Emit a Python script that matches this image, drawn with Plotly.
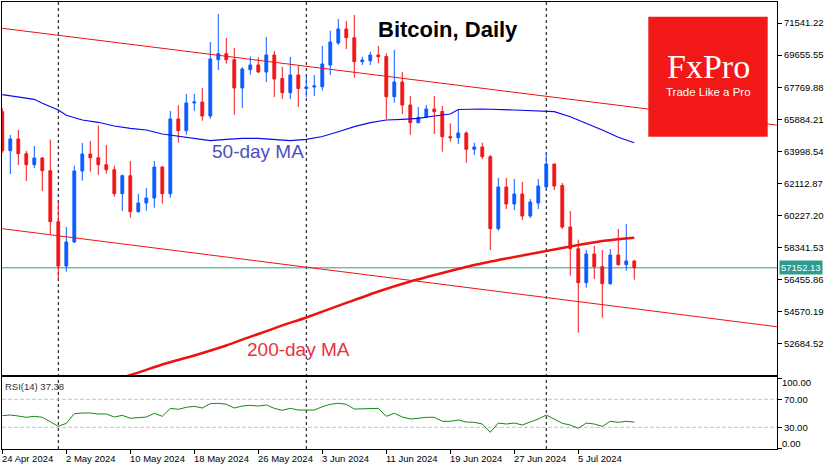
import plotly.graph_objects as go
import pandas as pd

# ---------------- data ----------------
dates = pd.date_range("2024-04-24", periods=80, freq="D")

opens = [66332, 64039, 64727, 63862, 63216, 63610, 62863, 59864, 57259, 58670,
         62845, 63845, 63627, 63216, 62922, 61510, 62569, 60452, 60964, 61258,
         63080, 61510, 65903, 65215, 66844, 66902, 66079, 69390, 69742, 69390,
         67726, 68802, 69078, 68666, 69666, 68284, 67449, 68490, 67696, 67784,
         67802, 69078, 70372, 71195, 70683, 69272, 69331, 69666, 69578, 67214,
         68078, 66726, 65685, 66003, 66491, 66344, 64862, 64803, 65080, 64121,
         64256, 63686, 59452, 61904, 60905, 61493, 60199, 60964, 61904, 63257,
         61993, 59552, 58276, 56277, 57965, 57218, 56218, 57906, 57336, 57553]
highs = [66550, 64962, 65256, 64021, 64315, 63668, 64686, 61040, 59552, 63157,
         64492, 64609, 65509, 64374, 63157, 62628, 63433, 61510, 61846, 63433,
         63139, 66373, 66708, 67373, 67373, 67726, 70430, 72077, 70666, 70078,
         68960, 69578, 69519, 70724, 69901, 68960, 69548, 69049, 68431, 68490,
         70195, 71095, 71783, 71665, 72018, 69566, 69860, 70195, 69766, 69960,
         68666, 67255, 66608, 66726, 67255, 66667, 65650, 66432, 65180, 64509,
         64509, 63786, 62434, 62434, 62375, 62198, 61199, 62375, 63904, 63257,
         62140, 60493, 58806, 58200, 58435, 58200, 58259, 59435, 59729, 57612]
lows = [63904, 62669, 63198, 62257, 63022, 61669, 59141, 56477, 56924, 58612,
        62275, 62804, 62628, 62686, 61334, 60493, 60099, 60393, 60511, 60687,
        60922, 61275, 64509, 64980, 66391, 65803, 65920, 68784, 69154, 66156,
        66550, 68508, 68608, 68078, 67196, 67079, 67079, 66608, 67196, 67255,
        67579, 68490, 70254, 70019, 68331, 69078, 69078, 69178, 65903, 66861,
        66197, 64980, 65650, 66003, 65021, 63980, 64568, 64433, 63333, 63786,
        63551, 58200, 59335, 60611, 60552, 59964, 60082, 60611, 61728, 61728,
        59435, 56689, 53337, 55983, 56495, 54219, 56160, 57277, 56983, 56454]
closes = [64039, 64727, 63862, 63216, 63610, 62863, 59864, 57259, 58670, 62845,
          63845, 63627, 63216, 62922, 61510, 62569, 60452, 60964, 61258, 63080,
          61510, 65903, 65215, 66844, 66902, 66079, 69431, 69742, 69390, 67726,
          68843, 69078, 68666, 69666, 68255, 67449, 68490, 67696, 67784, 67843,
          69137, 70430, 71195, 70683, 69272, 69372, 69666, 69566, 67214, 68078,
          66726, 65685, 66003, 66491, 66332, 64862, 64803, 65080, 64121, 64256,
          63686, 59452, 61904, 60905, 61493, 60199, 61022, 61963, 63257, 61963,
          59552, 58276, 56277, 57965, 57218, 56218, 57906, 57336, 57553, 57152.13]

ma50_dates = ["2024-04-24", "2024-04-28", "2024-04-29", "2024-05-01", "2024-05-02",
              "2024-05-04", "2024-05-06", "2024-05-08", "2024-05-10", "2024-05-12",
              "2024-05-14", "2024-05-16", "2024-05-18", "2024-05-20", "2024-05-22",
              "2024-05-24", "2024-05-26", "2024-05-28", "2024-05-30", "2024-06-01",
              "2024-06-03", "2024-06-05", "2024-06-07", "2024-06-09", "2024-06-11",
              "2024-06-13", "2024-06-15", "2024-06-17", "2024-06-19", "2024-06-20",
              "2024-06-23", "2024-06-27", "2024-06-30", "2024-07-02", "2024-07-04",
              "2024-07-06", "2024-07-08", "2024-07-10", "2024-07-12"]
ma50 = [67332, 67061, 66826, 66432, 66120, 65844, 65709, 65491, 65356, 65256,
        65021, 64903, 64744, 64627, 64709, 64768, 64768, 64709, 64627, 64709,
        64874, 65156, 65450, 65685, 65844, 65885, 65944, 66079, 66197, 66462,
        66491, 66432, 66373, 66332, 66038, 65650, 65256, 64827, 64509]

ma200_dates = ["2024-05-09", "2024-05-11", "2024-05-14", "2024-05-18", "2024-05-22",
               "2024-05-26", "2024-05-29", "2024-06-01", "2024-06-06", "2024-06-10",
               "2024-06-14", "2024-06-18", "2024-06-22", "2024-06-26", "2024-06-30",
               "2024-07-04", "2024-07-08", "2024-07-12"]
ma200 = [50703, 50991, 51467, 51997, 52585, 53261, 53761, 54231, 55084, 55760,
         56348, 56848, 57318, 57700, 58053, 58406, 58729, 58923]

channel_dates = ["2024-04-24", "2024-07-30"]
channel_upper = [71236, 65532]
channel_lower = [59452, 53678]

rsi = [46.6, 47.6, 46.1, 44.3, 45.7, 44.3, 38.0, 31.4, 35.7, 49.4,
       50.4, 50.4, 49.0, 49.0, 44.7, 47.1, 42.9, 44.3, 44.7, 50.0,
       45.7, 57.1, 55.7, 58.6, 60.0, 57.6, 63.7, 64.3, 62.9, 57.6,
       60.4, 61.4, 60.4, 61.9, 57.1, 54.3, 57.1, 54.7, 54.7, 54.7,
       59.4, 62.9, 64.3, 62.9, 56.1, 56.1, 57.1, 57.1, 45.7, 50.0,
       44.7, 41.9, 42.9, 44.3, 44.3, 38.6, 38.6, 40.4, 37.6, 37.1,
       34.7, 22.9, 36.1, 34.7, 36.1, 33.3, 37.6, 41.9, 47.6, 41.9,
       35.7, 33.3, 28.6, 36.1, 34.7, 31.4, 38.6, 37.1, 38.6, 37.38]

price_ticks = [52684.52, 54570.19, 56455.86, 58341.53, 60227.20,
               62112.87, 63998.54, 65884.21, 67769.88, 69655.55, 71541.22]
date_ticks = ["2024-04-24", "2024-05-02", "2024-05-10", "2024-05-18", "2024-05-26",
              "2024-06-03", "2024-06-11", "2024-06-19", "2024-06-27", "2024-07-05"]
date_tick_labels = ["24 Apr 2024", "2 May 2024", "10 May 2024", "18 May 2024",
                    "26 May 2024", "3 Jun 2024", "11 Jun 2024", "19 Jun 2024",
                    "27 Jun 2024", "5 Jul 2024"]
month_starts = ["2024-05-01", "2024-06-01", "2024-07-01"]
rsi_levels = [70, 30]

# ---------------- style ----------------
FONT = "Liberation Sans"
FS = 9.5
BLUE = "#0b5cff"
RED = "#f31616"
TEAL = "#2e9c8e"
W, H = 835, 470
ML, MR, MT, MB = 2, 58, 2, 21
PW, PH = W - ML - MR, H - MT - MB
X_RANGE = ["2024-04-23 23:06", "2024-07-29 20:10"]


def px(xp):
    return (xp - ML) / PW


def py(yp):
    return (H - MB - yp) / PH


fig = go.Figure()
fig.add_trace(go.Candlestick(
    x=dates, open=opens, high=highs, low=lows, close=closes,
    increasing=dict(line=dict(color=BLUE, width=1), fillcolor=BLUE),
    decreasing=dict(line=dict(color=RED, width=1), fillcolor=RED),
    whiskerwidth=0, xaxis="x", yaxis="y", hoverinfo="skip", showlegend=False))
fig.add_trace(go.Scatter(x=channel_dates, y=channel_upper, mode="lines",
                         line=dict(color="#f01010", width=1), xaxis="x", yaxis="y"))
fig.add_trace(go.Scatter(x=channel_dates, y=channel_lower, mode="lines",
                         line=dict(color="#f01010", width=1), xaxis="x", yaxis="y"))
fig.add_trace(go.Scatter(x=ma50_dates, y=ma50, mode="lines",
                         line=dict(color="#0a0aef", width=1.2), xaxis="x", yaxis="y"))
fig.add_trace(go.Scatter(x=ma200_dates, y=ma200, mode="lines",
                         line=dict(color="#f01010", width=2.4, shape="spline", smoothing=0.6),
                         xaxis="x", yaxis="y"))
fig.add_trace(go.Scatter(x=dates, y=rsi, mode="lines",
                         line=dict(color="#128a12", width=1), xaxis="x2", yaxis="y2"))

shapes = []
for d in month_starts:
    shapes.append(dict(type="line", xref="x", yref="paper", x0=d, x1=d, y0=0, y1=1,
                       line=dict(color="black", width=1, dash="3px,3px"), layer="below"))
for lv in rsi_levels:
    shapes.append(dict(type="line", xref="paper", yref="y2", x0=0, x1=1, y0=lv, y1=lv,
                       line=dict(color="#c4c4c4", width=1, dash="4px,2px"), layer="below"))
shapes.append(dict(type="line", xref="paper", yref="y", x0=0, x1=1,
                   y0=closes[-1], y1=closes[-1], line=dict(color=TEAL, width=1), layer="below"))
# FxPro logo box
shapes.append(dict(type="rect", xref="paper", yref="paper",
                   x0=px(648.3), x1=px(767.7), y0=py(136.7), y1=py(16.7),
                   fillcolor="#f21818", line=dict(width=0), layer="above"))

ann = []
ann.append(dict(text="<b>Bitcoin, Daily</b>", xref="paper", yref="paper", x=px(376), y=py(29),
                xanchor="left", yanchor="middle", showarrow=False,
                font=dict(family=FONT, size=22, color="black")))
ann.append(dict(text="FxPro", xref="paper", yref="paper", x=px(708), y=py(67),
                xanchor="center", yanchor="middle", showarrow=False,
                font=dict(family="Liberation Serif", size=34, color="white")))
ann.append(dict(text="Trade Like a Pro", xref="paper", yref="paper", x=px(708), y=py(91.5),
                xanchor="center", yanchor="middle", showarrow=False,
                font=dict(family=FONT, size=11.5, color="white")))
ann.append(dict(text="50-day MA", xref="paper", yref="paper", x=px(210), y=py(152),
                xanchor="left", yanchor="middle", showarrow=False,
                font=dict(family=FONT, size=19, color="#4b4fc4")))
ann.append(dict(text="200-day MA", xref="paper", yref="paper", x=px(245), y=py(349),
                xanchor="left", yanchor="middle", showarrow=False,
                font=dict(family=FONT, size=19, color="#e8323c")))
ann.append(dict(text="RSI(14) 37.38", xref="paper", yref="paper", x=px(3), y=py(386),
                xanchor="left", yanchor="middle", showarrow=False,
                font=dict(family=FONT, size=FS, color="#333333")))
ann.append(dict(text="57152.13", xref="paper", yref="y", x=1, y=closes[-1], xshift=2,
                xanchor="left", yanchor="middle", showarrow=False, bgcolor=TEAL,
                borderpad=1, font=dict(family=FONT, size=FS, color="white")))
for lbl, yv in [("100.00", 93.7), ("0.00", 7.1)]:
    ann.append(dict(text=lbl, xref="paper", yref="y2", x=1, y=yv, xshift=3,
                    xanchor="left", yanchor="middle", showarrow=False,
                    font=dict(family=FONT, size=FS, color="black")))
for d, lbl in zip(date_ticks, date_tick_labels):
    ann.append(dict(text=lbl, xref="x2", yref="paper", x=d, y=py(458.5),
                    xanchor="left", yanchor="middle", showarrow=False, xshift=-2,
                    font=dict(family=FONT, size=FS, color="black")))

axis_common = dict(showgrid=False, zeroline=False, showline=True, linecolor="black",
                   linewidth=1, mirror=True)
main_bottom = (H - MB - 375) / PH
rsi_top = (H - MB - 377) / PH

fig.update_layout(
    width=W, height=H, margin=dict(l=ML, r=MR, t=MT, b=MB),
    paper_bgcolor="white", plot_bgcolor="white", showlegend=False, hovermode=False,
    boxgap=0.5,
    xaxis=dict(domain=[0, 1], anchor="y", range=X_RANGE, showticklabels=False, ticks="",
               rangeslider=dict(visible=False), **axis_common),
    yaxis=dict(domain=[main_bottom, 1], anchor="x", side="right", range=[50850, 72782],
               tickvals=price_ticks, ticktext=[f"{v:.2f}" for v in price_ticks],
               ticks="outside", ticklen=4, tickcolor="black",
               tickfont=dict(family=FONT, size=FS, color="black"), **axis_common),
    xaxis2=dict(domain=[0, 1], anchor="y2", range=X_RANGE, tickvals=date_ticks,
                showticklabels=False, ticks="outside", ticklen=4, tickcolor="black",
                **axis_common),
    yaxis2=dict(domain=[0, rsi_top], anchor="x2", side="right", range=[-1, 101.9],
                tickvals=[100, 70, 30, 0], ticktext=["", "70.00", "30.00", ""],
                ticks="outside", ticklen=4, tickcolor="black",
                tickfont=dict(family=FONT, size=FS, color="black"), **axis_common),
    shapes=shapes, annotations=ann,
)

fig.write_html("out.html", config={"displayModeBar": False, "staticPlot": True},
               post_script="document.body.style.margin='0';document.body.style.padding='0';"
                           "document.body.style.overflow='hidden';")
